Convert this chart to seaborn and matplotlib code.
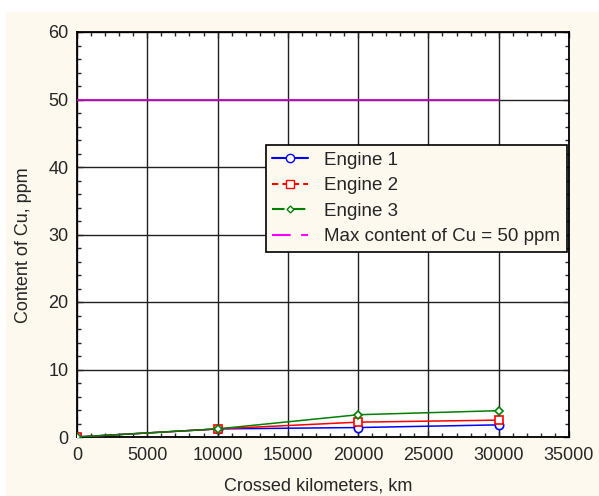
import pandas as pd
import matplotlib.pyplot as plt
import seaborn as sns
import numpy as np
from matplotlib.lines import Line2D
from matplotlib.patches import Rectangle
from matplotlib.ticker import MultipleLocator

km = [0, 10000, 20000, 30000]
engine1 = [0.0, 1.2, 1.4, 1.8]
engine2 = [0.0, 1.2, 2.2, 2.5]
engine3 = [0.0, 1.2, 3.3, 3.9]
max_cu = 50
max_km = [0, 30000]

df = pd.DataFrame({
    'km': km * 3,
    'Cu': engine1 + engine2 + engine3,
    'engine': ['Engine 1'] * 4 + ['Engine 2'] * 4 + ['Engine 3'] * 4,
})

sns.set_style('ticks')
plt.rcParams['font.family'] = ['Liberation Sans', 'DejaVu Sans']

bg = '#fdf9ef'
fig = plt.figure(figsize=(5.99, 4.96), dpi=100, facecolor='white')
fig.patches.append(Rectangle((6 / 599, 0), 1, 1 - 12 / 496, transform=fig.transFigure,
                             facecolor=bg, edgecolor='none', zorder=-10))
ax = fig.add_axes([77 / 599, 1 - 437 / 496, 492 / 599, 405 / 496])
ax.set_facecolor('white')

palette = {'Engine 1': 'blue', 'Engine 2': 'red', 'Engine 3': 'green'}
markers = {'Engine 1': 'o', 'Engine 2': 's', 'Engine 3': 'D'}
sizes = {'Engine 1': 6, 'Engine 2': 6, 'Engine 3': 4}
for name, grp in df.groupby('engine'):
    sns.lineplot(data=grp, x='km', y='Cu', ax=ax, color=palette[name], marker=markers[name],
                 markersize=sizes[name], markerfacecolor='white', markeredgecolor=palette[name],
                 markeredgewidth=1.2, linewidth=1.1, legend=False, zorder=3)
ax.plot(max_km, [max_cu, max_cu], color='#cc00cc', linewidth=1.3, zorder=3)

ax.set_xlim(0, 35000)
ax.set_ylim(0, 60)
ax.set_xticks(np.arange(0, 35001, 5000))
ax.set_yticks(np.arange(0, 61, 10))
ax.xaxis.set_minor_locator(MultipleLocator(1000))
ax.yaxis.set_minor_locator(MultipleLocator(2))
ax.grid(True, which='major', color='#202020', linewidth=1.0)
ax.tick_params(which='both', direction='in', top=True, right=True, labelsize=13)
ax.tick_params(axis='x', pad=7)
ax.tick_params(axis='y', pad=6)
ax.tick_params(which='major', length=4, width=1)
ax.tick_params(which='minor', length=3, width=1)
for s in ax.spines.values():
    s.set_linewidth(1.3)
    s.set_color('black')
ax.set_xlabel('Crossed kilometers, km', fontsize=13)
ax.set_ylabel('Content of Cu, ppm', fontsize=13)
ax.xaxis.set_label_coords(0.49, -0.100)
ax.yaxis.set_label_coords(-0.092, 0.474)

handles = [
    Line2D([], [], color='blue', linestyle='-', marker='o', markersize=6,
           markerfacecolor='white', markeredgecolor='blue'),
    Line2D([], [], color='red', linestyle=(0, (3, 2)), marker='s', markersize=6,
           markerfacecolor='white', markeredgecolor='red'),
    Line2D([], [], color='green', linestyle=(0, (6, 4)), marker='D', markersize=3.5,
           markerfacecolor='white', markeredgecolor='green'),
    Line2D([], [], color='#ff00ff', linestyle=(0, (9, 5))),
]
labels = ['Engine 1', 'Engine 2', 'Engine 3', 'Max content of Cu = 50 ppm']
leg = ax.legend(handles, labels, loc='upper left', bbox_to_anchor=(0.384, 0.721),
                fontsize=13.5, frameon=True, fancybox=False, framealpha=1,
                handlelength=1.9, labelspacing=0.45, borderpad=0.35, handletextpad=0.85,
                borderaxespad=0)
leg.get_frame().set_facecolor(bg)
leg.get_frame().set_edgecolor('black')
leg.get_frame().set_linewidth(1.2)
leg.set_zorder(5)

fig.savefig('out.png', dpi=100, facecolor=fig.get_facecolor())
